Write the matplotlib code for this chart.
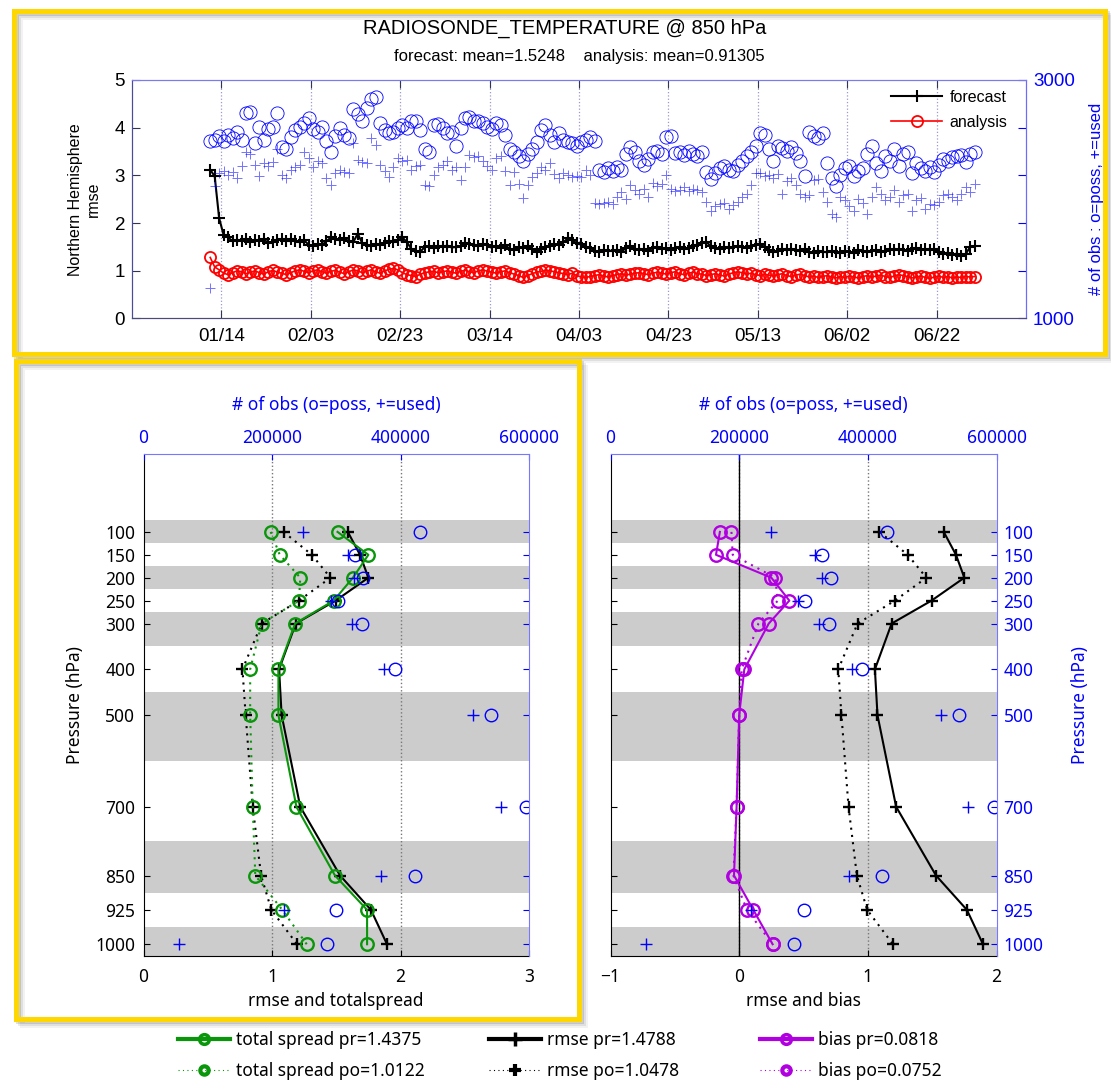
import matplotlib
matplotlib.use("Agg")
import matplotlib.pyplot as plt
import pandas as pd
from matplotlib.lines import Line2D
from matplotlib.patches import Rectangle

plt.rcParams['font.family'] = ['Noto Sans', 'DejaVu Sans']
ARIAL = ['Liberation Sans', 'DejaVu Sans']

# ---- daily time series, Northern Hemisphere 850 hPa ----
dates = pd.date_range("2016-01-11 12:00", periods=172, freq="D")

forecast_rmse = [
    3.12, 2.98, 2.10, 1.75, 1.70, 1.62, 1.65, 1.63, 1.66, 1.60,
    1.65, 1.62, 1.66, 1.58, 1.60, 1.64, 1.66, 1.63, 1.67, 1.62,
    1.60, 1.64, 1.55, 1.52, 1.56, 1.54, 1.62, 1.70, 1.66, 1.64,
    1.68, 1.62, 1.60, 1.78, 1.58, 1.55, 1.52, 1.56, 1.54, 1.58,
    1.62, 1.60, 1.64, 1.70, 1.60, 1.46, 1.42, 1.40, 1.50, 1.52,
    1.48, 1.52, 1.50, 1.53, 1.49, 1.50, 1.52, 1.58, 1.56, 1.55,
    1.52, 1.56, 1.54, 1.50, 1.52, 1.48, 1.54, 1.46, 1.44, 1.50,
    1.48, 1.52, 1.46, 1.40, 1.45, 1.50, 1.52, 1.56, 1.54, 1.60,
    1.68, 1.64, 1.58, 1.56, 1.50, 1.48, 1.42, 1.40, 1.44, 1.42,
    1.42, 1.44, 1.40, 1.48, 1.52, 1.46, 1.44, 1.45, 1.42, 1.48,
    1.50, 1.46, 1.48, 1.44, 1.47, 1.50, 1.46, 1.48, 1.52, 1.55,
    1.58, 1.60, 1.52, 1.48, 1.46, 1.50, 1.47, 1.49, 1.52, 1.50,
    1.48, 1.52, 1.54, 1.56, 1.50, 1.44, 1.40, 1.42, 1.45, 1.43,
    1.46, 1.44, 1.42, 1.45, 1.40, 1.38, 1.42, 1.40, 1.39, 1.41,
    1.40, 1.38, 1.42, 1.40, 1.38, 1.43, 1.41, 1.39, 1.42, 1.44,
    1.40, 1.42, 1.45, 1.43, 1.46, 1.44, 1.42, 1.45, 1.47, 1.44,
    1.46, 1.43, 1.45, 1.40, 1.36, 1.38, 1.34, 1.36, 1.32, 1.35,
    1.50, 1.52]

analysis_rmse = [
    1.28, 1.08, 1.02, 0.95, 0.92, 0.96, 1.00, 0.98, 0.94, 0.97,
    1.00, 0.96, 0.93, 0.98, 1.01, 0.97, 0.95, 0.92, 0.96, 1.00,
    1.02, 0.99, 0.96, 1.00, 1.02, 0.98, 0.95, 0.99, 1.01, 0.97,
    0.94, 0.98, 1.02, 1.00, 0.96, 0.99, 1.02, 0.98, 0.95, 1.00,
    1.03, 1.05, 1.02, 0.96, 0.92, 0.90, 0.88, 0.93, 0.96, 0.98,
    0.99, 0.96, 0.98, 1.00, 0.97, 0.95, 0.99, 1.01, 0.98, 0.96,
    1.00, 1.02, 0.99, 0.97, 0.95, 0.98, 1.00, 0.96, 0.93, 0.90,
    0.86, 0.90, 0.94, 0.97, 0.99, 1.01, 1.00, 0.98, 0.96, 0.94,
    0.92, 0.95, 0.90, 0.87, 0.86, 0.88, 0.90, 0.92, 0.89, 0.87,
    0.90, 0.92, 0.94, 0.91, 0.93, 0.95, 0.96, 0.94, 0.92, 0.95,
    0.97, 0.95, 0.93, 0.96, 0.98, 0.94, 0.92, 0.95, 0.97, 0.94,
    0.93, 0.90, 0.92, 0.94, 0.91, 0.89, 0.93, 0.96, 0.98, 0.96,
    0.93, 0.95, 0.92, 0.90, 0.93, 0.91, 0.89, 0.92, 0.94, 0.90,
    0.88, 0.91, 0.93, 0.90, 0.87, 0.89, 0.86, 0.88, 0.90, 0.87,
    0.85, 0.88, 0.86, 0.89, 0.87, 0.85, 0.88, 0.90, 0.87, 0.89,
    0.91, 0.88, 0.86, 0.89, 0.92, 0.90, 0.88, 0.85, 0.87, 0.89,
    0.86, 0.84, 0.87, 0.89, 0.86, 0.88, 0.85, 0.87, 0.86, 0.88,
    0.87, 0.88]

obs_possible = [
    2492, 2500, 2528, 2488, 2540, 2512, 2568, 2500, 2720, 2728,
    2472, 2608, 2500, 2592, 2608, 2720, 2440, 2420, 2520, 2580,
    2608, 2640, 2680, 2592, 2568, 2608, 2488, 2400, 2528, 2600,
    2540, 2512, 2760, 2712, 2660, 2768, 2840, 2860, 2640, 2580,
    2552, 2568, 2600, 2620, 2600, 2660, 2660, 2580, 2420, 2400,
    2620, 2632, 2600, 2552, 2560, 2448, 2600, 2680, 2688, 2660,
    2660, 2640, 2608, 2592, 2640, 2620, 2540, 2420, 2400, 2360,
    2320, 2380, 2420, 2480, 2580, 2620, 2540, 2480, 2552, 2500,
    2480, 2472, 2448, 2480, 2500, 2520, 2488, 2248, 2232, 2260,
    2240, 2272, 2248, 2380, 2440, 2400, 2320, 2288, 2340, 2400,
    2408, 2380, 2520, 2528, 2392, 2400, 2368, 2408, 2380, 2360,
    2400, 2232, 2168, 2220, 2260, 2280, 2248, 2240, 2288, 2320,
    2360, 2400, 2448, 2552, 2540, 2420, 2320, 2448, 2432, 2408,
    2440, 2392, 2320, 2192, 2560, 2528, 2512, 2552, 2300, 2180,
    2112, 2200, 2260, 2280, 2192, 2240, 2260, 2380, 2448, 2300,
    2240, 2360, 2320, 2420, 2280, 2380, 2400, 2220, 2300, 2260,
    2240, 2272, 2232, 2288, 2340, 2320, 2352, 2360, 2368, 2312,
    2380, 2400]

obs_used = [
    1256, 2108, 2220, 2240, 2200, 2232, 2180, 2280, 2400, 2380,
    2288, 2192, 2300, 2280, 2312, 2424, 2200, 2180, 2248, 2272,
    2288, 2400, 2344, 2272, 2320, 2300, 2176, 2120, 2220, 2248,
    2232, 2220, 2468, 2328, 2312, 2300, 2512, 2456, 2288, 2240,
    2188, 2272, 2344, 2320, 2328, 2248, 2280, 2288, 2120, 2108,
    2200, 2272, 2288, 2320, 2248, 2272, 2160, 2272, 2372, 2352,
    2360, 2320, 2280, 2248, 2344, 2360, 2240, 2120, 2232, 2132,
    2008, 2120, 2188, 2220, 2272, 2248, 2300, 2208, 2176, 2220,
    2200, 2188, 2192, 2188, 2248, 2200, 1968, 1960, 1968, 1980,
    1960, 2020, 2060, 2000, 2120, 2080, 2040, 2088, 2020, 2140,
    2112, 2128, 2200, 2088, 2072, 2080, 2100, 2072, 2088, 2080,
    2060, 1980, 1900, 1940, 1960, 1968, 1920, 1952, 1980, 2020,
    2048, 2120, 2220, 2220, 2192, 2200, 2180, 2208, 2040, 2152,
    2180, 2120, 2048, 2020, 2032, 2160, 2168, 2060, 1980, 1880,
    1848, 2020, 1992, 1940, 1900, 2000, 1968, 1880, 2020, 2100,
    2048, 1992, 2020, 2080, 1980, 2032, 2048, 1900, 1992, 2008,
    1920, 1960, 1952, 1980, 2032, 2048, 2020, 1992, 2048, 2100,
    2060, 2128]

# ---- vertical profiles ----
levels = [100, 150, 200, 250, 300, 400, 500, 700, 850, 925, 1000]
spread_pr = [1.51, 1.75, 1.63, 1.48, 1.18, 1.05, 1.05, 1.19, 1.49, 1.74, 1.74]
spread_po = [0.99, 1.06, 1.22, 1.21, 0.92, 0.83, 0.83, 0.85, 0.87, 1.08, 1.27]
rmse_pr = [1.59, 1.685, 1.75, 1.495, 1.185, 1.055, 1.075, 1.22, 1.53, 1.77, 1.895]
rmse_po = [1.09, 1.31, 1.455, 1.21, 0.92, 0.77, 0.795, 0.85, 0.915, 0.995, 1.195]
bias_pr = [-0.15, -0.18, 0.25, 0.39, 0.23, 0.04, 0.0, -0.02, -0.04, 0.11, 0.26]
bias_po = [-0.06, -0.05, 0.28, 0.30, 0.15, 0.02, 0.0, -0.02, -0.045, 0.06, 0.26]
nobs_poss = [430000, 329000, 342000, 302000, 340000, 391000, 541000, 596000, 422000, 300000, 285000]
nobs_used = [249000, 318000, 328000, 292000, 324000, 375000, 513000, 556000, 370000, 218000, 55000]

GREEN = '#0a960a'
MAGENTA = '#b000e0'
W, H = 1111, 1091

fig = plt.figure(figsize=(W / 100, H / 100), dpi=100)


def rect(l, t, r, b):
    return [l / W, 1 - b / H, (r - l) / W, (b - t) / H]


# ================= top: time series =================
ax = fig.add_axes(rect(132, 80, 1026, 318.5))
ax.plot(dates, forecast_rmse, color='k', lw=1.5, marker='+', ms=8, mew=1.5, label='forecast')
ax.plot(dates, analysis_rmse, color='red', lw=1.2, marker='o', ms=8, mfc='none', mew=1.3,
        label='analysis')
ax.set_xlim(pd.Timestamp('2015-12-25'), pd.Timestamp('2016-07-12'))
ax.set_ylim(0, 5)
xt = pd.date_range('2016-01-14', periods=9, freq='20D').to_pydatetime()
ax.set_xticks(xt, [d.strftime('%m/%d') for d in xt], fontfamily=ARIAL, fontsize=13.5)
ax.set_yticks(range(6), [str(v) for v in range(6)], fontfamily=ARIAL, fontsize=13.5)
ax.grid(axis='x', ls=':', color='#9a9acc', lw=0.9)
ax.tick_params(direction='in', length=5.5, top=True, pad=5, color='#333355')
ax.tick_params(axis='x', pad=7)
ax.set_ylabel('Northern Hemisphere\nrmse', fontfamily=ARIAL, fontsize=11.5, labelpad=10)

axr = ax.twinx()
axr.plot(dates, obs_possible, ls='none', marker='o', ms=9.5, mfc='none', mec='blue', mew=0.6)
axr.plot(dates, obs_used, ls='none', marker='+', ms=7.5, mec='blue', mew=0.7, alpha=0.55)
axr.set_ylim(1000, 3000)
axr.set_yticks([1000, 1400, 1800, 2200, 2600, 3000], ['1000', '', '', '', '', '3000'],
               fontfamily=ARIAL, fontsize=13.5)
axr.tick_params(direction='in', length=5.5, colors='blue', pad=5)
axr.set_ylabel('# of obs : o=poss, +=used', color='blue', fontfamily=ARIAL, fontsize=12,
               labelpad=10)
for a in (ax, axr):
    a.spines['top'].set_color('#7b7bf0')
    a.spines['right'].set_color('#6b6bff')
    a.spines['left'].set_color('#4b4b9b')
    a.spines['bottom'].set_color('#4b4b7b')

h, lab = ax.get_legend_handles_labels()
axr.legend(h, lab, loc='upper left', bbox_to_anchor=((891 - 132) / 894, (318.5 - 90) / 238.5),
           frameon=False, borderpad=0, borderaxespad=0, handlelength=3.2, handletextpad=0.45,
           labelspacing=0.62, prop={'family': ARIAL, 'size': 11.5})

fig.text(565 / W, 1 - 28 / H, 'RADIOSONDE_TEMPERATURE @ 850 hPa', ha='center', va='center',
         fontsize=14.5, fontfamily=ARIAL)
fig.text(579 / W, 1 - 57 / H, 'forecast: mean=1.5248    analysis: mean=0.91305',
         ha='center', va='center', fontsize=12, fontfamily=ARIAL)


# ================= bottom: profiles =================
def bands(a):
    n = len(levels)
    for i in range(0, n, 2):
        top = (levels[i - 1] + levels[i]) / 2 if i > 0 else levels[0] - (levels[1] - levels[0]) / 2
        bot = (levels[i] + levels[i + 1]) / 2 if i < n - 1 else levels[-1] + (levels[-1] - levels[-2]) / 2
        a.axhspan(top, bot, color='#cccccc', lw=0, zorder=0)


def obs_axes(pos, show_right):
    t = fig.add_axes(pos, facecolor='none')
    t.set_xlim(0, 600000)
    t.set_ylim(1025, -70)
    t.xaxis.tick_top()
    t.xaxis.set_label_position('top')
    t.yaxis.tick_right()
    t.yaxis.set_label_position('right')
    t.set_xticks([0, 200000, 400000, 600000], ['0', '200000', '400000', '600000'], fontsize=12.5)
    t.set_yticks(levels, [str(p) for p in levels], fontsize=12.5)
    t.tick_params(direction='in', length=4, colors='blue', pad=5)
    t.tick_params(axis='y', labelright=show_right)
    for s in ('left', 'bottom'):
        t.spines[s].set_visible(False)
    for s in ('top', 'right'):
        t.spines[s].set_color('#7777ff')
    t.set_xlabel('# of obs (o=poss, +=used)', color='blue', fontsize=12.5, labelpad=14)
    t.plot(nobs_poss, levels, ls='none', marker='o', ms=9, mfc='none', mec='blue', mew=1.0)
    t.plot(nobs_used, levels, ls='none', marker='+', ms=9, mec='blue', mew=1.0)
    return t


def base_axes(pos, xlim, xticks, xlabel, grid_x, show_left):
    a = fig.add_axes(pos)
    bands(a)
    for gx in grid_x:
        a.axvline(gx, ls=':', color='#777777', lw=1, zorder=1.5)
    a.set_xlim(*xlim)
    a.set_ylim(1025, -70)
    a.set_xticks(xticks, [f'{v}'.replace('-', '\u2212') for v in xticks], fontsize=12.5)
    a.set_yticks(levels, [str(p) for p in levels], fontsize=12.5)
    a.tick_params(direction='in', length=4)
    a.tick_params(axis='x', pad=9)
    a.tick_params(axis='y', pad=6, labelleft=show_left)
    a.spines['top'].set_visible(False)
    a.spines['right'].set_visible(False)
    a.set_xlabel(xlabel, fontsize=12.5, labelpad=4)
    return a


dot = (0, (1, 2.5))
mk = dict(ms=9, mew=1.7)

posL = rect(143.5, 454, 529, 955.7)
axL = base_axes(posL, (0, 3), [0, 1, 2, 3], 'rmse and totalspread', [1, 2], True)
axL.set_ylabel('Pressure (hPa)', fontsize=12.5, labelpad=8)
axL.plot(rmse_po, levels, color='k', lw=1.5, ls=dot, marker='+', **mk)
axL.plot(spread_po, levels, color=GREEN, lw=1.5, ls=dot, marker='o', mfc='none', **mk)
axL.plot(rmse_pr, levels, color='k', lw=1.5, marker='+', **mk)
axL.plot(spread_pr, levels, color=GREEN, lw=1.5, marker='o', mfc='none', **mk)
obs_axes(posL, False)

posR = rect(610.5, 454, 996.5, 955.7)
axR = base_axes(posR, (-1, 2), [-1, 0, 1, 2], 'rmse and bias', [0, 1], False)
axR.axvline(0, color='k', lw=1, zorder=1.8)
axR.plot(rmse_po, levels, color='k', lw=1.5, ls=dot, marker='+', **mk)
axR.plot(rmse_pr, levels, color='k', lw=1.5, marker='+', **mk)
axR.plot(bias_po, levels, color=MAGENTA, lw=1.5, ls=dot, marker='o', mfc='none', **mk)
axR.plot(bias_pr, levels, color=MAGENTA, lw=1.5, marker='o', mfc='none', **mk)
axRt = obs_axes(posR, True)
axRt.set_ylabel('Pressure (hPa)', color='blue', fontsize=12.5, labelpad=20)

# ---- shared legend below the profiles ----
def pr_handle(c, m):
    return Line2D([], [], color=c, lw=3, marker=m, ms=7 if m == 'o' else 10, mfc='none', mew=2.5)


def po_handle(c, m):
    return Line2D([], [], color=c, lw=0.8, ls=(0, (1, 3)), marker=m, ms=6 if m == 'o' else 8,
                  mfc='none', mew=3)


groups = [
    (178, GREEN, 'o', ['total spread pr=1.4375', 'total spread po=1.0122']),
    (489, 'k', '+', ['rmse pr=1.4788', 'rmse po=1.0478']),
    (760, MAGENTA, 'o', ['bias pr=0.0818', 'bias po=0.0752']),
]
for x0, c, m, labels in groups:
    fig.legend([pr_handle(c, m), po_handle(c, m)], labels, loc='upper left',
               bbox_to_anchor=(x0 / W, 1 - 1031 / H), frameon=False, borderpad=0,
               borderaxespad=0, handlelength=3.0, handletextpad=0.35, labelspacing=0.75,
               fontsize=12.5)

# ---- yellow highlight frames ----
def frame(l, t, r, b):
    for k, al in ((6, 0.05), (4, 0.08), (2, 0.12)):
        fig.patches.append(Rectangle(((l + k) / W, 1 - (b + k) / H), (r - l) / W, (b - t) / H,
                                     transform=fig.transFigure, fill=False, ec='black',
                                     alpha=al, lw=3.6, figure=fig))
    fig.patches.append(Rectangle((l / W, 1 - b / H), (r - l) / W, (b - t) / H,
                                 transform=fig.transFigure, fill=False, ec='#ffd700', lw=3.6,
                                 figure=fig))


frame(14, 11, 1105, 354)
frame(15.5, 361, 579, 1019)

fig.savefig('out.png', dpi=100)
